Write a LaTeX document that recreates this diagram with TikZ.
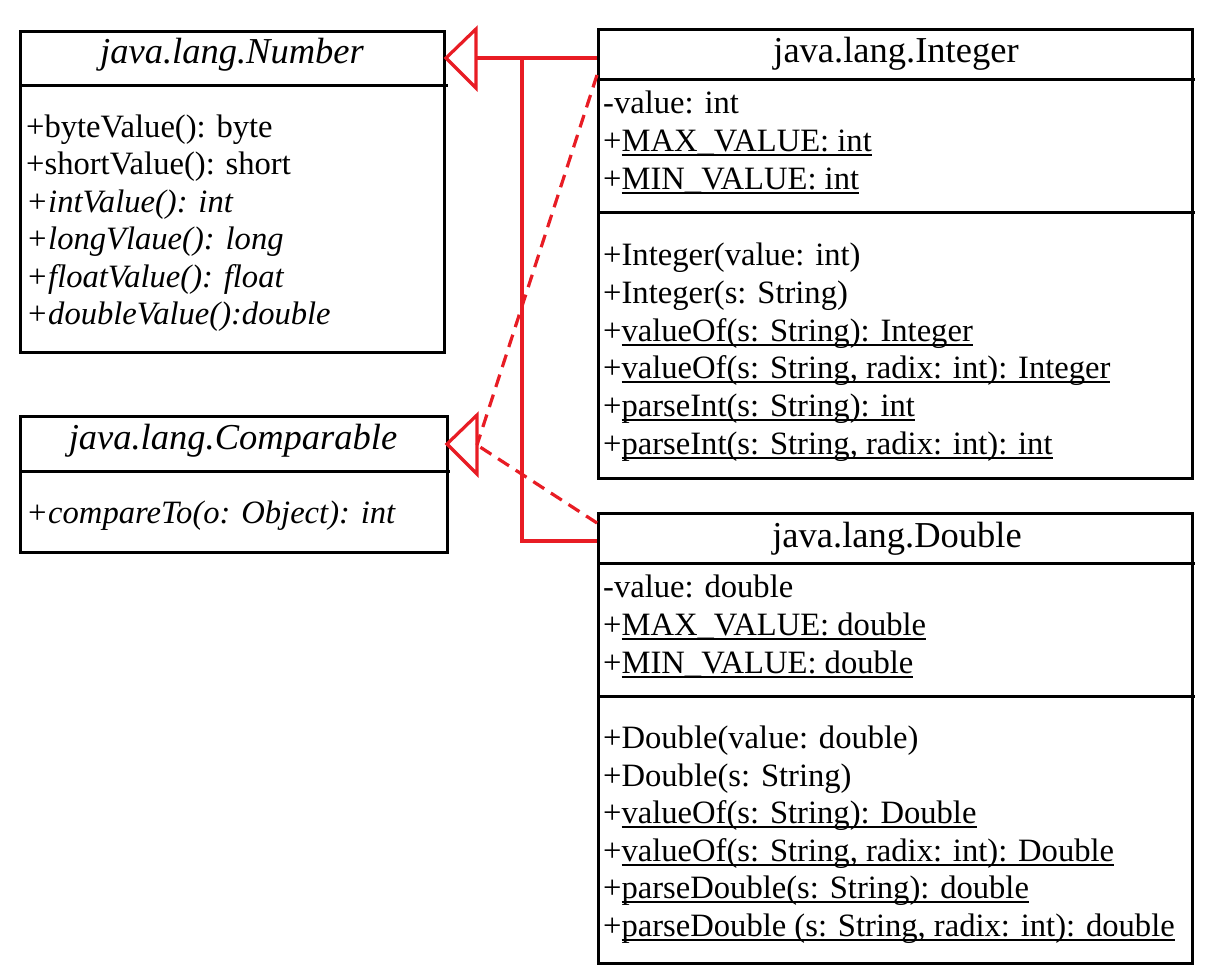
\documentclass[tikz,border=0pt]{standalone}
\usepackage{fontspec}
\setmainfont{Liberation Serif}
\definecolor{umlred}{RGB}{232,28,36}
\newsavebox\ulbox
\newcommand{\uln}[1]{\sbox\ulbox{#1}\rlap{\rule[-5pt]{\wd\ulbox}{2pt}}\usebox\ulbox}
\begin{document}
\begin{tikzpicture}[x=1pt,y=-1pt,
  umlbox/.style={draw=black, line width=3pt, anchor=north west, inner sep=0pt},
  divider/.style={draw=black, line width=3pt},
  txt/.style={anchor=base west, inner sep=0pt, font=\fontsize{32.6}{38}\selectfont},
  head/.style={anchor=base, inner sep=0pt, font=\fontsize{36.5}{40}\selectfont},
  inh/.style={draw=umlred, line width=3.2pt},
  real/.style={draw=umlred, line width=3.2pt, dash pattern=on 13pt off 8pt},
  tri/.style={draw=umlred, line width=3.2pt, line join=miter}]
\useasboundingbox (0,0) rectangle (1230,975);

% boxes
\node[umlbox, minimum width=424pt, minimum height=321pt] (number) at (19,30) {};
\node[umlbox, minimum width=427pt, minimum height=136pt] (comparable) at (19,415) {};
\node[umlbox, minimum width=594pt, minimum height=449pt] (integer) at (597,28) {};
\node[umlbox, minimum width=594pt, minimum height=450pt] (double) at (597,512) {};

% dividers
\draw[divider] (number.west |- 0,85) -- (448,85);
\draw[divider] (comparable.west |- 0,471) -- (450,471);
\draw[divider] (integer.west |- 0,79) -- (1195,79);
\draw[divider] (integer.west |- 0,212) -- (1195,212);
\draw[divider] (double.west |- 0,563) -- (1195,563);
\draw[divider] (double.west |- 0,696) -- (1195,696);

% Number
\node[head] (numberH) at (232,63) {\itshape java.lang.Number};
\node[txt] (m1) at (26,137) {+byteValue(): byte};
\node[txt] (m2) at (26,174) {+shortValue(): short};
\node[txt] (m3) at (26,212) {\itshape +intValue(): int};
\node[txt] (m4) at (26,249) {\itshape +longVlaue(): long};
\node[txt] (m5) at (26,287) {\itshape +floatValue(): float};
\node[txt] (m6) at (26,324) {\itshape +doubleValue():double};

% Comparable
\node[head] (comparableH) at (233,449) {\itshape java.lang.Comparable};
\node[txt] (c1) at (26,523) {\itshape +compareTo(o: Object): int};

% Integer
\node[head] (integerH) at (896,62) {java.lang.Integer};
\node[txt] (ia1) at (603,113) {-value: int};
\node[txt] (ia2) at (603,151) {+\uln{MAX\_VALUE: int}};
\node[txt] (ia3) at (603,189) {+\uln{MIN\_VALUE: int}};
\node[txt] (im1) at (603,265) {+Integer(value: int)};
\node[txt] (im2) at (603,303) {+Integer(s: String)};
\node[txt] (im3) at (603,341) {+\uln{valueOf(s: String): Integer}};
\node[txt] (im4) at (603,378) {+\uln{valueOf(s: String, radix: int): Integer}};
\node[txt] (im5) at (603,416) {+\uln{parseInt(s: String): int}};
\node[txt] (im6) at (603,454) {+\uln{parseInt(s: String, radix: int): int}};

% Double
\node[head] (doubleH) at (897,547) {java.lang.Double};
\node[txt] (da1) at (603,597) {-value: double};
\node[txt] (da2) at (603,635) {+\uln{MAX\_VALUE: double}};
\node[txt] (da3) at (603,673) {+\uln{MIN\_VALUE: double}};
\node[txt] (dm1) at (603,748) {+Double(value: double)};
\node[txt] (dm2) at (603,786) {+Double(s: String)};
\node[txt] (dm3) at (603,823) {+\uln{valueOf(s: String): Double}};
\node[txt] (dm4) at (603,861) {+\uln{valueOf(s: String, radix: int): Double}};
\node[txt] (dm5) at (603,898) {+\uln{parseDouble(s: String): double}};
\node[txt] (dm6) at (603,936) {+\uln{parseDouble (s: String, radix: int): double}};

% triangles
\coordinate (tipN) at (446,58);
\coordinate (baseN) at (476,58);
\coordinate (tipC) at (447,444);
\coordinate (baseC) at (477,445);
\draw[tri] (tipN) -- (476,29) -- (476,88) -- cycle;
\draw[tri] (tipC) -- (477,415) -- (477,474) -- cycle;

% connectors
\coordinate (joint) at (522,541);
\draw[inh] (integer.west |- baseN) -- (baseN);
\draw[inh] (double.west |- joint) -- (joint) -- (joint |- baseN);
\draw[real] (integer.west |- 0,75) -- (baseC);
\draw[real] (double.west |- 0,523) -- (baseC);
\end{tikzpicture}
\end{document}
